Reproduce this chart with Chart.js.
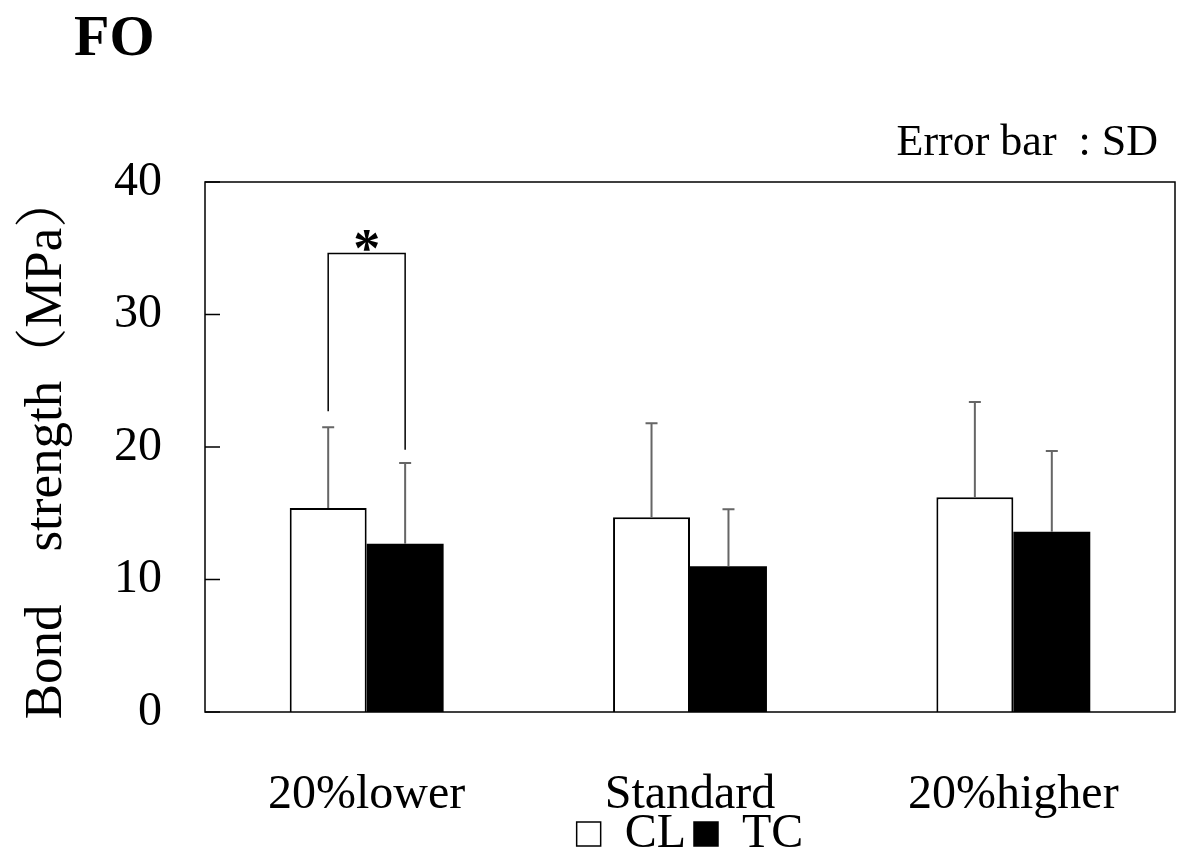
<!DOCTYPE html>
<html>
<head>
<meta charset="utf-8">
<script src="https://cdn.jsdelivr.net/npm/chart.js@4.4.1/dist/chart.umd.min.js"></script>
<style>
html, body { margin: 0; padding: 0; background: #fff; }
</style>
</head>
<body>
<canvas id="chart" width="1177" height="868"></canvas>
<script>
// values (MPa)
var categories = ['20%lower', 'Standard', '20%higher'];
var clMean = [15.4, 14.7, 16.2];
var clSD = [6.1, 7.1, 7.2];
var tcMean = [12.7, 11.0, 13.6];
var tcSD = [6.1, 4.3, 6.1];
var yTicks = [0, 10, 20, 30, 40];
// significance bracket: category, leg bottoms and top (in MPa)
var sigCategory = [0];
var sigLeftFrom = [22.7];
var sigRightFrom = [19.8];
var sigTop = [34.6];
var sigMark = ['*'];

var SERIF = "'Liberation Serif', 'Noto Serif CJK JP', 'Noto Sans CJK JP', serif";

var extras = {
    id: 'extras',
    afterLayout: function(chart) {
        // let the category labels run below the axis box instead of clipping
        chart.scales.x.bottom = chart.height;
    },
    afterDatasetsDraw: function(chart) {
        var ctx = chart.ctx, a = chart.chartArea, y = chart.scales.y;
        ctx.save();

        // error bars (upper only)
        chart.data.datasets.forEach(function(ds, i) {
            var meta = chart.getDatasetMeta(i);
            meta.data.forEach(function(bar, j) {
                var yTop = y.getPixelForValue(ds.data[j] + ds.errors[j]);
                ctx.strokeStyle = '#666';
                ctx.lineWidth = 2;
                ctx.beginPath();
                ctx.moveTo(bar.x, bar.y);
                ctx.lineTo(bar.x, yTop);
                ctx.moveTo(bar.x - 6, yTop);
                ctx.lineTo(bar.x + 6, yTop);
                ctx.stroke();
            });
        });

        // frame and inner ticks
        ctx.strokeStyle = '#000';
        ctx.lineWidth = 1.5;
        ctx.strokeRect(a.left, a.top, a.right - a.left, a.bottom - a.top);
        ctx.beginPath();
        yTicks.forEach(function(v) {
            var py = y.getPixelForValue(v);
            ctx.moveTo(a.left, py);
            ctx.lineTo(a.left + 15, py);
        });
        ctx.stroke();

        // significance brackets
        sigCategory.forEach(function(c, k) {
            var x1 = chart.getDatasetMeta(0).data[c].x;
            var x2 = chart.getDatasetMeta(1).data[c].x;
            var yt = y.getPixelForValue(sigTop[k]);
            ctx.strokeStyle = '#000';
            ctx.lineWidth = 1.5;
            ctx.beginPath();
            ctx.moveTo(x1, y.getPixelForValue(sigLeftFrom[k]));
            ctx.lineTo(x1, yt);
            ctx.lineTo(x2, yt);
            ctx.lineTo(x2, y.getPixelForValue(sigRightFrom[k]));
            ctx.stroke();
            ctx.fillStyle = '#000';
            ctx.font = 'bold 54px ' + SERIF;
            ctx.textAlign = 'center';
            ctx.textBaseline = 'alphabetic';
            ctx.fillText(sigMark[k], (x1 + x2) / 2, yt + 12);
        });

        // headings
        ctx.fillStyle = '#000';
        ctx.textBaseline = 'alphabetic';
        ctx.textAlign = 'left';
        ctx.font = 'bold 58px ' + SERIF;
        ctx.fillText('FO', 74, 55);
        ctx.textAlign = 'right';
        ctx.font = '44px ' + SERIF;
        ctx.fillText('Error bar  : SD', 1158, 155);
        ctx.restore();
    }
};

new Chart(document.getElementById('chart'), {
    type: 'bar',
    data: {
        labels: categories,
        datasets: [
            { label: 'CL', data: clMean, errors: clSD, backgroundColor: '#fff',
              borderColor: '#000', borderWidth: 2 },
            { label: 'TC', data: tcMean, errors: tcSD, backgroundColor: '#000',
              borderColor: '#000', borderWidth: 0 }
        ]
    },
    options: {
        responsive: false,
        animation: false,
        layout: { padding: { top: 182, right: 2, left: 0, bottom: 0 } },
        datasets: { bar: { categoryPercentage: 0.476, barPercentage: 1 } },
        plugins: {
            tooltip: { enabled: false },
            legend: {
                position: 'bottom',
                fullSize: false,
                labels: {
                    color: '#000',
                    font: { family: SERIF, size: 48 },
                    boxWidth: 24, boxHeight: 24, padding: 8,
                    generateLabels: function(chart) {
                        return chart.data.datasets.map(function(ds, i) {
                            return { text: ds.label, fillStyle: ds.backgroundColor,
                                     strokeStyle: '#000', lineWidth: 1.5, datasetIndex: i };
                        });
                    }
                }
            }
        },
        scales: {
            x: {
                grid: { display: false, drawTicks: false },
                border: { display: false },
                ticks: { color: '#000', font: { family: SERIF, size: 48 }, padding: 55 },
                afterFit: function(scale) { scale.height = 90; }
            },
            y: {
                min: 0, max: 40,
                afterBuildTicks: function(scale) {
                    scale.ticks = yTicks.map(function(v) { return { value: v }; });
                },
                grid: { display: false, drawTicks: false },
                border: { display: false },
                ticks: { color: '#000', font: { family: SERIF, size: 48 }, padding: 43 },
                title: {
                    display: true,
                    text: 'Bond　strength（MPa）',
                    color: '#000',
                    font: { family: SERIF, size: 53 },
                    padding: { top: 15, bottom: 0 }
                },
                afterFit: function(scale) { scale.width = 205; }
            }
        }
    },
    plugins: [extras]
});
</script>
</body>
</html>
